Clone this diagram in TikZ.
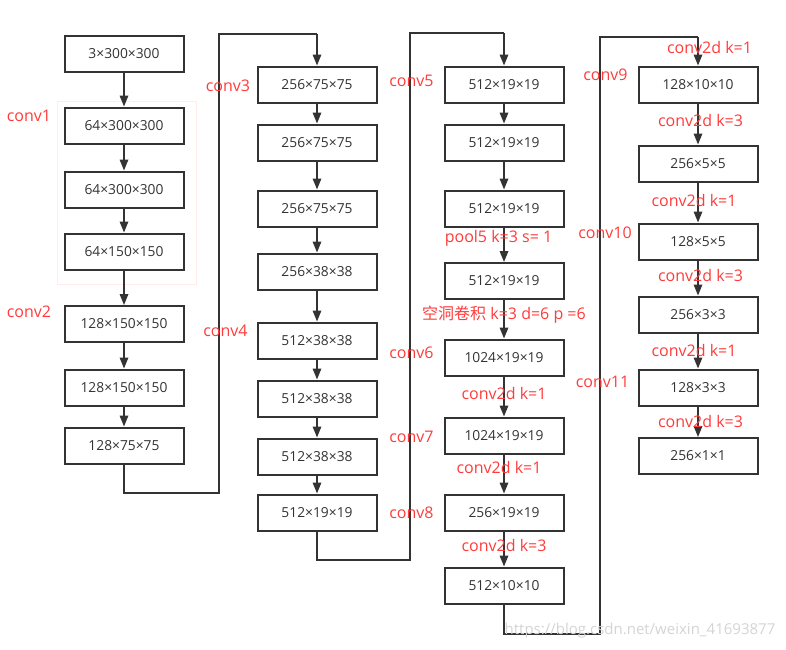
\documentclass[tikz,border=0pt]{standalone}
\usepackage{fontspec}
\setmainfont{Open Sans}
\newfontfamily\cjk{Noto Sans CJK SC}
\usetikzlibrary{arrows.meta}
\definecolor{lab}{HTML}{FF3B3B}
\definecolor{ln}{HTML}{333333}
\definecolor{faint}{HTML}{FFEDEA}
\definecolor{wm}{HTML}{D4D4D4}
\begin{document}
\begin{tikzpicture}[x=1pt,y=-1pt,
 box/.style={draw=ln, line width=2pt, minimum width=119pt, minimum height=36pt, inner sep=0pt, font=\fontsize{13.8}{15}\selectfont, text=ln},
 lbl/.style={text=lab, font=\fontsize{16}{18}\selectfont, inner sep=0pt},
 arr/.style={draw=ln, line width=1.7pt, -{Triangle[length=11pt,width=8.5pt]}},
 link/.style={draw=ln, line width=1.7pt}]
\useasboundingbox (0,0) rectangle (786,649);
% faint group box
\node[draw=faint, line width=1pt, minimum width=139pt, minimum height=183pt, inner sep=0pt] (grp1) at (126.5,192.5) {};
% column 1
\node[box] (a1) at (124,53.5) {3×300×300};
\node[box] (a2) at (124,125.5) {64×300×300};
\node[box] (a3) at (124,189.5) {64×300×300};
\node[box] (a4) at (124,251.5) {64×150×150};
\node[box] (a5) at (124,324) {128×150×150};
\node[box] (a6) at (124,387.5) {128×150×150};
\node[box] (a7) at (124,445.5) {128×75×75};
% column 2
\node[box] (b1) at (317,84.5) {256×75×75};
\node[box] (b2) at (317,142.5) {256×75×75};
\node[box] (b3) at (317,208.5) {256×75×75};
\node[box] (b4) at (317,271.5) {256×38×38};
\node[box] (b5) at (317,340.5) {512×38×38};
\node[box] (b6) at (317,398.5) {512×38×38};
\node[box] (b7) at (317,456.5) {512×38×38};
\node[box] (b8) at (317,512.5) {512×19×19};
% column 3
\node[box] (c1) at (504,84.5) {512×19×19};
\node[box] (c2) at (504,142.5) {512×19×19};
\node[box] (c3) at (504,208.5) {512×19×19};
\node[box] (c4) at (504,281) {512×19×19};
\node[box] (c5) at (504,357.5) {1024×19×19};
\node[box] (c6) at (504,435.5) {1024×19×19};
\node[box] (c7) at (504,512.5) {256×19×19};
\node[box] (c8) at (504,585.5) {512×10×10};
% column 4
\node[box] (d1) at (698,84.5) {128×10×10};
\node[box] (d2) at (698,163.5) {256×5×5};
\node[box] (d3) at (698,241.5) {128×5×5};
\node[box] (d4) at (698,314.5) {256×3×3};
\node[box] (d5) at (698,387.5) {128×3×3};
\node[box] (d6) at (698,456) {256×1×1};
% arrows within columns
\foreach \p/\q in {a1/a2,a2/a3,a3/a4,a4/a5,a5/a6,a6/a7,
  b1/b2,b2/b3,b3/b4,b4/b5,b5/b6,b6/b7,b7/b8,
  c1/c2,c2/c3,c3/c4,c4/c5,c5/c6,c6/c7,c7/c8,
  d1/d2,d2/d3,d3/d4,d4/d5,d5/d6}
  \draw[arr] (\p) -- (\q);
% column links
\coordinate (k1) at (124,493);
\coordinate (k2) at (219,493);
\coordinate (k3) at (219,34);
\coordinate (k4) at (317,34);
\draw[link] (a7) -- (k1) -- (k2) -- (k3) -- (k4);
\draw[arr] (k4) -- (b1);
\coordinate (m1) at (317,560);
\coordinate (m2) at (410,560);
\coordinate (m3) at (410,33);
\coordinate (m4) at (504,33);
\draw[link] (b8) -- (m1) -- (m2) -- (m3) -- (m4);
\draw[arr] (m4) -- (c1);
\coordinate (n1) at (504,634);
\coordinate (n2) at (600,634);
\coordinate (n3) at (600,37);
\coordinate (n4) at (698,37);
\draw[link] (c8) -- (n1) -- (n2) -- (n3) -- (n4);
\draw[arr] (n4) -- (d1);
% labels
\node[lbl] (l1) at (29,116) {conv1};
\node[lbl] (l2) at (29,312) {conv2};
\node[lbl] (l3) at (228,86) {conv3};
\node[lbl] (l4) at (225.5,331) {conv4};
\node[lbl] (l5) at (411.5,81) {conv5};
\node[lbl] (l6) at (411.5,353) {conv6};
\node[lbl] (l7) at (411.5,437) {conv7};
\node[lbl] (l8) at (411.5,513) {conv8};
\node[lbl] (l9) at (605.5,75) {conv9};
\node[lbl] (l10) at (605,233) {conv10};
\node[lbl] (l11) at (602.5,382) {conv11};
\node[lbl] (p5) at (498.5,238) {pool5 k=3 s= 1};
\node[lbl] (dil) at (504,315) {{\cjk 空洞卷积} k=3 d=6 p =6};
\node[lbl] (e1) at (504,393) {conv2d k=1};
\node[lbl] (e2) at (499,467) {conv2d k=1};
\node[lbl] (e3) at (504,545) {conv2d k=3};
\node[lbl] (f1) at (709.5,47) {conv2d k=1};
\node[lbl] (f2) at (700.5,120) {conv2d k=3};
\node[lbl] (f3) at (694,200) {conv2d k=1};
\node[lbl] (f4) at (700.5,275) {conv2d k=3};
\node[lbl] (f5) at (694,350) {conv2d k=1};
\node[lbl] (f6) at (700.5,421) {conv2d k=3};
% watermark
\node[text=wm, font=\fontsize{15}{17}\selectfont, inner sep=0pt] (wmk) at (640,631) {https://blog.csdn.net/weixin\_41693877};
\end{tikzpicture}
\end{document}
